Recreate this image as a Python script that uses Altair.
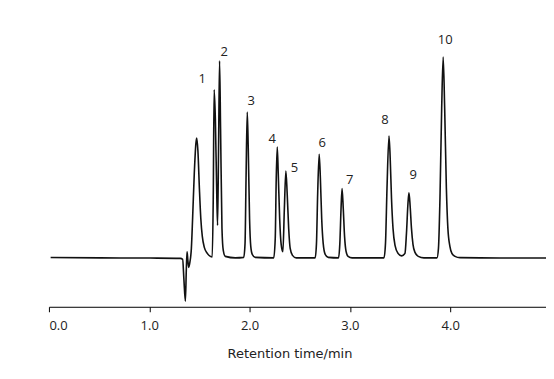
import altair as alt
import pandas as pd

# Chromatogram trace (time in min, signal in arbitrary units)
time_min = [
    0.017, 0.51, 1.01, 1.31, 1.333, 1.345, 1.36, 1.370, 1.377, 1.385, 1.393, 1.405,
    1.42, 1.433, 1.449, 1.465, 1.473, 1.485, 1.5, 1.514, 1.529, 1.549, 1.579, 1.609,
    1.628, 1.638, 1.647, 1.659, 1.672, 1.681, 1.691, 1.701, 1.711, 1.725, 1.738, 1.758,
    1.858, 1.942, 1.955, 1.965, 1.977, 1.987, 2.0, 2.012, 2.027, 2.057,
    2.241, 2.256, 2.266, 2.276, 2.286, 2.3, 2.315, 2.332, 2.347, 2.362, 2.375, 2.390,
    2.405, 2.428, 2.465,
    2.654, 2.667, 2.679, 2.694, 2.706, 2.719, 2.734, 2.754, 2.784,
    2.887, 2.9, 2.912, 2.922, 2.934, 2.947, 2.962, 2.982, 3.022,
    3.34, 3.355, 3.37, 3.39, 3.402, 3.415, 3.43, 3.45, 3.48, 3.516,
    3.549, 3.564, 3.579, 3.589, 3.601, 3.614, 3.629, 3.649, 3.682, 3.738,
    3.868, 3.883, 3.898, 3.915, 3.93, 3.945, 3.962, 3.977, 3.997, 4.017, 4.048, 4.098,
    4.494, 5.0,
]
signal = [
    0.8, 0.5, 0.3, 0.0, -1, -20, -43, -10, 6.5, -2, -9, -4,
    10, 42, 85, 115, 120.6, 108, 70, 40, 22, 11, 5, 2,
    1.5, 60, 169, 140, 70, 33, 110, 198, 130, 30, 8, 2,
    0.5, 1, 15, 80, 146.6, 110, 40, 12, 4, 1,
    0.5, 20, 80, 111.6, 85, 40, 14, 6.6, 50, 87.6, 65, 30,
    10, 3, 0.5,
    0.5, 15, 65, 104.3, 80, 40, 15, 4, 1,
    0.5, 15, 50, 70, 50, 22, 7, 2, 0.5,
    0.5, 15, 70, 122.6, 100, 60, 30, 13, 5, 2.5,
    5, 25, 55, 65.6, 52, 30, 14, 6, 2, 0.5,
    0.5, 10, 60, 150, 201.6, 150, 70, 30, 12, 5, 2, 0.7,
    0.3, 0.3,
]

# Peak labels
peak_names = ["1", "2", "3", "4", "5", "6", "7", "8", "9", "10"]
label_time = [1.529, 1.748, 2.017, 2.226, 2.448, 2.723, 2.999, 3.350, 3.632, 3.950]
label_signal = [179.3, 206.6, 157.3, 119.3, 90.3, 116, 79, 138.3, 84, 219]

tick_values = [0, 1, 2, 3, 4]

trace = pd.DataFrame({"t": time_min, "s": signal})
labels = pd.DataFrame({"t": label_time, "s": label_signal, "name": peak_names})

xscale = alt.Scale(domain=[0, 4.955], nice=False, zero=False)
yscale = alt.Scale(domain=[-48.5, 250.5], nice=False, zero=False)

line = alt.Chart(trace).mark_line(
    color="#111111", strokeWidth=1.6, interpolate="monotone", clip=True
).encode(
    x=alt.X("t:Q", scale=xscale,
            axis=alt.Axis(title="Retention time/min", values=tick_values, format=".1f",
                          grid=False, domainColor="#000000", tickColor="#000000",
                          domainWidth=1, tickWidth=1, tickSize=5, labelPadding=8,
                          labelFlush=True, labelFont="Open Sans", labelFontSize=13,
                          labelColor="#222222", titleFont="DejaVu Sans", titleFontSize=13,
                          titleFontWeight="normal", titleColor="#222222", titlePadding=15,
                          titleX=241, titleAlign="center", titleAnchor="start")),
    y=alt.Y("s:Q", scale=yscale, axis=None),
)

text = alt.Chart(labels).mark_text(
    font="Open Sans", fontSize=13, color="#222222", align="center", baseline="middle"
).encode(
    x=alt.X("t:Q", scale=xscale),
    y=alt.Y("s:Q", scale=yscale),
    text="name:N",
)

chart = alt.layer(line, text).properties(
    width=498, height=299,
    padding={"left": 40, "top": 0, "right": 0, "bottom": 0},
    background="white",
).configure_view(stroke=None)

chart.save("out.html", embed_options={"renderer": "svg", "actions": False})
